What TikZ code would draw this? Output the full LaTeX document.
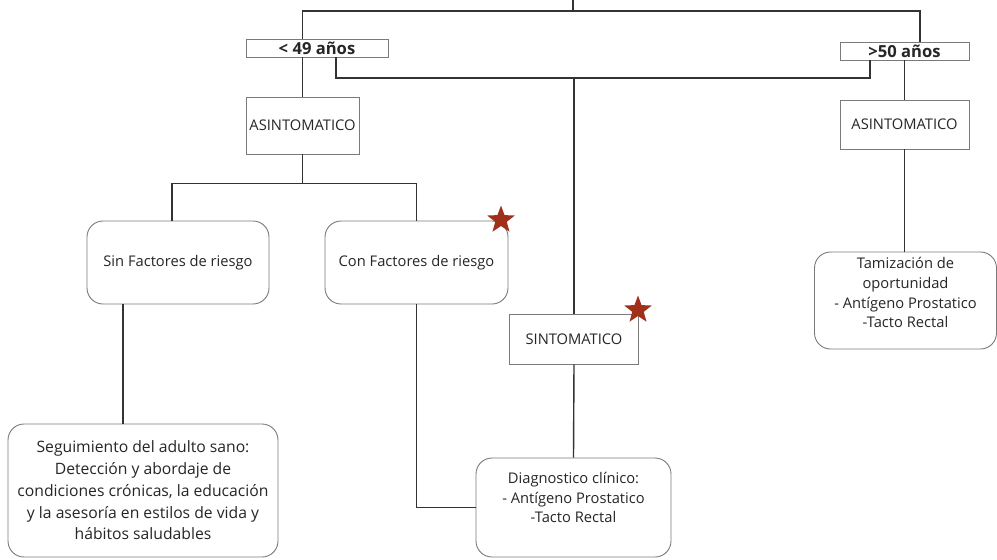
\documentclass[tikz,border=0pt]{standalone}
\usepackage{fontspec}
\setmainfont{Open Sans}
\usetikzlibrary{shapes.geometric}
\definecolor{linec}{HTML}{333333}
\definecolor{boxc}{HTML}{7A7A7A}
\definecolor{starc}{HTML}{A0301A}
\newcommand{\lowpad}[1]{\rule[-#1]{0pt}{0pt}}
\begin{document}
\begin{tikzpicture}[x=1pt,y=-1pt,
  conn/.style={draw=linec,line width=1.4pt},
  sqbox/.style={draw=boxc,line width=0.9pt,fill=white,inner sep=0pt,align=center,text=black!85,font=\fontsize{14.7}{19.8}\selectfont},
  rbox/.style={sqbox,rounded corners=16pt},
  agebox/.style={sqbox,font=\fontsize{16.6}{18}\selectfont\bfseries},
  starmark/.style={star,star points=5,star point ratio=2.4,fill=starc,draw=none,minimum size=29pt,inner sep=0pt}]
\useasboundingbox (0,0) rectangle (997,560);
\node[agebox,minimum width=142pt,minimum height=18pt] (y49) at (317,48) {< 49 años};
\node[agebox,minimum width=129pt,minimum height=18pt] (y50) at (904.5,51) {>50 años};
\node[sqbox,minimum width=113pt,minimum height=57pt] (asL) at (302.5,125.5) {ASINTOMATICO};
\node[sqbox,minimum width=129pt,minimum height=49pt] (asR) at (904.5,124.5) {ASINTOMATICO};
\node[rbox,minimum width=182pt,minimum height=83pt] (sin) at (178,262.5) {Sin Factores de riesgo};
\node[rbox,minimum width=183pt,minimum height=83pt] (con) at (416.5,262.5) {Con Factores de riesgo};
\node[sqbox,minimum width=129pt,minimum height=50pt] (sint) at (574,339) {SINTOMATICO};
\node[rbox,minimum width=182pt,minimum height=97pt] (tam) at (905.5,300.5) {Tamización de\\oportunidad\\- Antígeno Prostatico\\-Tacto Rectal\lowpad{16pt}};
\node[rbox,minimum width=270pt,minimum height=133pt,font=\fontsize{15.7}{21.7}\selectfont] (seg) at (143,490.5) {Seguimiento del adulto sano:\\Detección y abordaje de\\condiciones crónicas, la educación\\y la asesoría en estilos de vida y\\hábitos saludables};
\node[rbox,minimum width=195pt,minimum height=99pt] (diag) at (573.5,507.5) {Diagnostico clínico:\\- Antígeno Prostatico\\-Tacto Rectal\lowpad{20pt}};
\node[starmark] (st1) at (501,220) {};
\node[starmark] (st2) at (638,310) {};
\coordinate (topEnd) at (573,0);
\coordinate (hTop) at (573,11);
\coordinate (hMid) at (574,78);
\draw[conn] (topEnd) -- (hTop);
\draw[conn] (y49.north -| asL.north) |- (hTop) -| ([xshift=15.5pt]y50.north);
\draw[conn] ([xshift=19pt]y49.south) |- (hMid) -| ([xshift=-34.5pt]y50.south);
\draw[conn] (hMid) -- (sint.north);
\draw[conn] (asL.north |- y49.south) -- (asL.north);
\draw[conn] (y50.south) -- (asR.north);
\draw[conn] (asR.south) -- (asR.south |- tam.north);
\draw[conn] (asL.south) -- ++(0,29) coordinate (bL);
\draw[conn] ([xshift=-6pt]sin.north) |- (bL) -| (con.north);
\draw[conn] ([xshift=-55pt]sin.south) -- ([xshift=-55pt]sin.south |- seg.north);
\draw[conn] (con.south) |- (diag.west);
\draw[conn] (sint.south) -- (diag.north);
\end{tikzpicture}
\end{document}
